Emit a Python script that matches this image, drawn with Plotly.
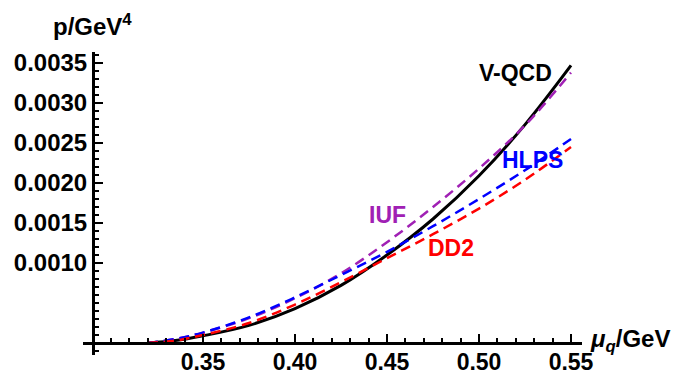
import plotly.graph_objects as go

# ---- data ----
mu = [0.32, 0.335, 0.35, 0.375, 0.40, 0.425, 0.45, 0.475, 0.50, 0.525, 0.55]
p_vqcd = [0.0, 0.00003, 0.00009, 0.00022, 0.00043, 0.00072, 0.00110, 0.00155, 0.00209, 0.00273, 0.00347]
p_iuf = [0.0, 0.00005, 0.00013, 0.00031, 0.00056, 0.00087, 0.00126, 0.00170, 0.00218, 0.00272, 0.00338]
p_hlps = [0.0, 0.00005, 0.00013, 0.00032, 0.00057, 0.00085, 0.00114, 0.00146, 0.00180, 0.00216, 0.00255]
p_dd2 = [0.0, 0.00003, 0.00010, 0.00025, 0.00048, 0.00076, 0.00106, 0.00136, 0.00168, 0.00204, 0.00245]

x_tickvals = [0.35, 0.40, 0.45, 0.50, 0.55]
x_ticktext = ["0.35", "0.40", "0.45", "0.50", "0.55"]
y_tickvals = [0.0010, 0.0015, 0.0020, 0.0025, 0.0030, 0.0035]
y_ticktext = ["0.0010", "0.0015", "0.0020", "0.0025", "0.0030", "0.0035"]

labels = ["V-QCD", "IUF", "HLPS", "DD2"]
label_x = [0.5196, 0.450, 0.529, 0.485]
label_y = [0.00337, 0.00160, 0.00229, 0.00119]

PURPLE = "#a020b4"
colors = ["black", PURPLE, "blue", "red"]

FONT = "Liberation Sans"

ml, mr, mt, mb = 83, 104, 52, 21
W, H = 686, 376
pw = W - ml - mr
ph = H - mt - mb


def px_to_paper(px, py):
    return (px - ml) / pw, (H - mb - py) / ph


fig = go.Figure()
fig.add_trace(go.Scatter(x=mu, y=p_vqcd, mode="lines", line=dict(color="black", width=3, shape="spline"), showlegend=False))
fig.add_trace(go.Scatter(x=mu, y=p_iuf, mode="lines", line=dict(color=PURPLE, width=2.5, dash="10px,6px", shape="spline"), showlegend=False))
fig.add_trace(go.Scatter(x=mu, y=p_hlps, mode="lines", line=dict(color="blue", width=2.5, dash="10px,6px", shape="spline"), showlegend=False))
fig.add_trace(go.Scatter(x=mu, y=p_dd2, mode="lines", line=dict(color="red", width=2.5, dash="10px,6px", shape="spline"), showlegend=False))

for t, xx, yy, c in zip(labels, label_x, label_y, colors):
    fig.add_annotation(x=xx, y=yy, text=t, showarrow=False, xref="x", yref="y",
                       font=dict(family=FONT, size=23, color=c, weight="bold"))

# axis labels
ax, ay = px_to_paper(92, 25)
fig.add_annotation(x=ax, y=ay, xref="paper", yref="paper", text="p/GeV<sup>4</sup>",
                   showarrow=False, xanchor="center", yanchor="middle",
                   font=dict(family=FONT, size=24, color="black", weight="bold"))
bx, by = px_to_paper(588, 340)
fig.add_annotation(x=bx, y=by, xref="paper", yref="paper",
                   text="<i>μ</i><sub><i>q</i></sub>/GeV",
                   showarrow=False, xanchor="left", yanchor="middle",
                   font=dict(family=FONT, size=24, color="black", weight="bold"))

fig.update_layout(
    width=W, height=H,
    margin=dict(l=ml, r=mr, t=mt, b=mb, pad=0, autoexpand=False),
    paper_bgcolor="white", plot_bgcolor="white",
    xaxis=dict(
        range=[0.28478, 0.55598], anchor="free", position=12 / ph, automargin=False,
        showgrid=False, zeroline=False, showline=True, linecolor="black", linewidth=3,
        tickmode="array", tickvals=x_tickvals, ticktext=x_ticktext,
        ticks="inside", ticklen=8, tickwidth=2, tickcolor="black",
        minor=dict(tickmode="linear", tick0=0.28, dtick=0.01, ticks="inside", ticklen=4, tickwidth=2, tickcolor="black"),
        tickfont=dict(family=FONT, size=23, color="black", weight="bold"),
        ticklabelstandoff=-3,
    ),
    yaxis=dict(
        range=[-0.00015, 0.0036375], anchor="free", position=10 / pw, automargin=False,
        showgrid=False, zeroline=False, showline=True, linecolor="black", linewidth=3,
        tickmode="array", tickvals=y_tickvals, ticktext=y_ticktext,
        ticks="inside", ticklen=8, tickwidth=2, tickcolor="black",
        minor=dict(tickmode="linear", tick0=0.0, dtick=0.0001, ticks="inside", ticklen=4, tickwidth=2, tickcolor="black"),
        tickfont=dict(family=FONT, size=24, color="black", weight="bold"),
    ),
)

fig.write_html("out.html")
